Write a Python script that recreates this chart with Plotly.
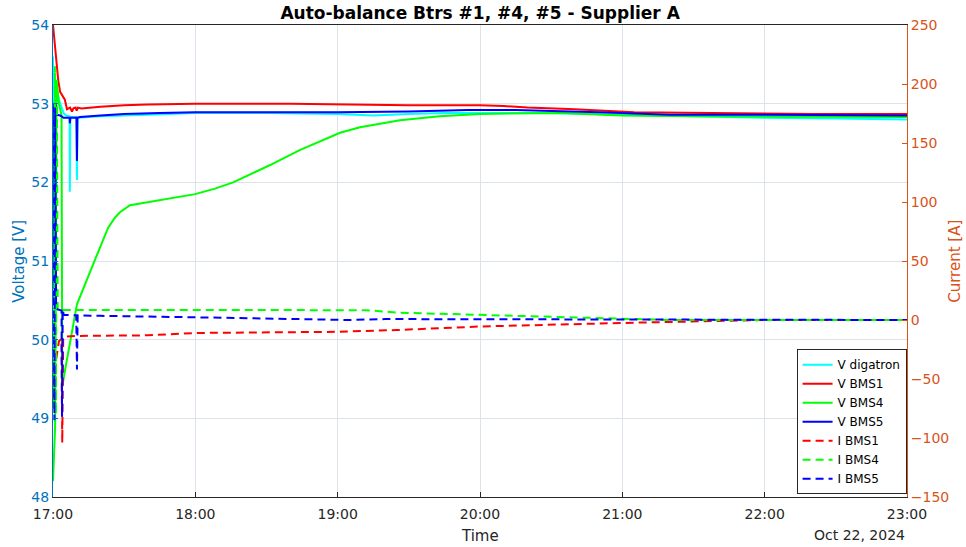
import pandas as pd
import plotly.graph_objects as go

T0 = pd.Timestamp("2024-10-22 17:00:00")

# ---- data (minutes after 17:00, values) ----
t_vdig = [0, 0.3, 0.6, 1.5, 2.5, 3.5, 4.5, 5.5, 7.0, 7.1, 7.3, 9.9, 10.1, 10.3, 20, 40, 60, 90, 120, 135, 150, 165, 180, 210, 240, 270, 300, 330, 360]
v_dig = [53.6, 51.6, 53.4, 53.2, 53.05, 52.95, 52.88, 52.85, 52.84, 51.88, 52.83, 52.83, 52.03, 52.82, 52.84, 52.86, 52.88, 52.88, 52.87, 52.85, 52.87, 52.88, 52.88, 52.88, 52.86, 52.84, 52.82, 52.81, 52.80]

t_vb1 = [0, 0.6, 1.3, 2.2, 3.0, 4.0, 5.0, 5.9, 7.2, 8.0, 8.6, 9.5, 10.0, 10.5, 12, 20, 30, 40, 60, 100, 130, 150, 180, 190, 200, 220, 245, 280, 320, 360]
v_b1 = [54.0, 53.8, 53.55, 53.3, 53.15, 53.1, 53.05, 52.93, 52.95, 52.9, 52.94, 52.95, 52.91, 52.95, 52.94, 52.96, 52.98, 52.99, 53.0, 53.0, 52.99, 52.98, 52.98, 52.97, 52.95, 52.93, 52.89, 52.88, 52.87, 52.87]

t_vb4 = [0, 0.9, 1.5, 2.5, 3.6, 3.9, 5.0, 7.2, 10.1, 16.4, 19.8, 23.2, 26.1, 28.2, 32.5, 40.9, 49.3, 59.9, 68.3, 75.9, 91.5, 104, 121, 129.4, 146.3, 163, 180, 213.7, 240, 272.8, 360]
v_b4 = [48.2, 48.9, 53.3, 53.0, 52.85, 49.4, 49.6, 49.95, 50.45, 50.92, 51.18, 51.42, 51.55, 51.62, 51.71, 51.75, 51.79, 51.85, 51.92, 52.0, 52.22, 52.41, 52.63, 52.70, 52.79, 52.84, 52.87, 52.88, 52.85, 52.84, 52.83]

t_vb5 = [0, 0.2, 1.2, 1.6, 3.0, 4.5, 7.0, 7.1, 7.3, 9.9, 10.1, 10.3, 11.4, 20, 30, 45, 60, 90, 120, 150, 175, 195, 210, 230, 260, 300, 360]
v_b5 = [50.65, 53.0, 52.98, 52.86, 52.85, 52.82, 52.82, 52.75, 52.82, 52.82, 52.27, 52.82, 52.83, 52.85, 52.87, 52.88, 52.89, 52.89, 52.89, 52.9, 52.92, 52.92, 52.91, 52.89, 52.86, 52.86, 52.85]

t_ib1 = [0, 0.6, 1.2, 2.5, 3.6, 3.9, 4.3, 5.0, 10, 40, 60, 120, 145, 180, 240, 290, 300, 360]
i_b1 = [-40, -75, -35, -18, -16, -104, -16, -14, -13.5, -13, -11, -10, -8.5, -5.5, -2.5, -0.5, 0, 0]

t_ib4 = [0, 0.4, 0.8, 1.2, 1.6, 2.0, 60, 120, 132, 146, 180, 210, 240, 260, 360]
i_b4 = [0, -75, 215, -80, 205, 8.5, 8.5, 8.5, 8.3, 6.2, 4.2, 2.5, 0.8, 0, 0]

t_ib5 = [0, 0.3, 0.6, 0.9, 1.3, 2.0, 3.6, 3.8, 4.1, 4.5, 9.8, 10.1, 10.4, 20, 60, 110, 125, 140, 200, 250, 290, 360]
i_b5 = [20, 25, -85, 180, 10, 9, 8, -82, 9, 4.5, 4, -42, 4, 3.5, 2.3, 0.8, 0.0, 0.8, 0.6, 0.2, 0, 0]


def tt(mins):
    return [T0 + pd.Timedelta(minutes=m) for m in mins]


series = [
    ("V digatron", t_vdig, v_dig, "#00FFFF", "solid", "y"),
    ("V BMS1", t_vb1, v_b1, "#FF0000", "solid", "y"),
    ("V BMS4", t_vb4, v_b4, "#00FF00", "solid", "y"),
    ("V BMS5", t_vb5, v_b5, "#0000FF", "solid", "y"),
    ("I BMS1", t_ib1, i_b1, "#FF0000", "8px,5px", "y2"),
    ("I BMS4", t_ib4, i_b4, "#00FF00", "8px,5px", "y2"),
    ("I BMS5", t_ib5, i_b5, "#0000FF", "8px,5px", "y2"),
]

fig = go.Figure()
for name, t, v, c, d, ax in series:
    fig.add_trace(go.Scatter(x=tt(t), y=v, name=name, mode="lines", yaxis=ax,
                             line=dict(color=c, width=2, dash=d)))

FONT = "DejaVu Sans"
LEFT = "#0072BD"
RIGHT = "#D95319"

fig.update_layout(
    width=966, height=547,
    margin=dict(l=53, r=59, t=25, b=50, autoexpand=False),
    paper_bgcolor="white", plot_bgcolor="white",
    font=dict(family=FONT, size=14, color="#262626"),
    title=dict(text="<b>Auto-balance Btrs #1, #4, #5 - Supplier A</b>", x=0.497, xanchor="center",
               y=0.977, yanchor="middle", font=dict(size=17, color="#000000", family=FONT)),
    showlegend=True,
    legend=dict(x=0.9995, xanchor="right", y=0.006, yanchor="bottom", bgcolor="white",
                bordercolor="#262626", borderwidth=1, font=dict(size=12, color="#000000", family=FONT),
                tracegroupgap=0, itemwidth=30),
    xaxis=dict(type="date", range=[T0, T0 + pd.Timedelta(hours=6)], dtick=3600000, tickformat="%H:%M",
               showgrid=True, gridcolor="#dde3ea", gridwidth=1, showline=True, linecolor="#262626",
               linewidth=1, mirror=True, ticks="inside", ticklen=5, tickcolor="#262626",
               ticklabelstandoff=4,
               automargin=False, zeroline=False, tickfont=dict(size=14, color="#262626")),
    yaxis=dict(range=[48, 54], dtick=1, showgrid=True, gridcolor="#dde3ea", gridwidth=1, showline=True,
               linecolor=LEFT, linewidth=1, ticks="inside", ticklen=5, tickcolor=LEFT,
               tickfont=dict(size=14, color=LEFT), automargin=False, zeroline=False),
    yaxis2=dict(range=[-150, 250], dtick=50, overlaying="y", side="right", showgrid=False, showline=True,
                linecolor=RIGHT, linewidth=1, ticks="inside", ticklen=5, tickcolor=RIGHT,
                tickfont=dict(size=14, color=RIGHT), automargin=False, zeroline=False),
    annotations=[
        dict(text="Oct 22, 2024", xref="paper", yref="paper", x=1.0, y=-0.06, xanchor="right",
             yanchor="top", showarrow=False, font=dict(size=14, color="#262626", family=FONT)),
        dict(text="Time", xref="paper", yref="paper", x=0.5, y=-0.06, xanchor="center",
             yanchor="top", showarrow=False, font=dict(size=15, color="#262626", family=FONT)),
        dict(text="Voltage [V]", xref="paper", yref="paper", x=-0.04, y=0.5, xanchor="center",
             yanchor="middle", textangle=-90, showarrow=False, font=dict(size=15, color=LEFT, family=FONT)),
        dict(text="Current [A]", xref="paper", yref="paper", x=1.056, y=0.5, xanchor="center",
             yanchor="middle", textangle=-90, showarrow=False, font=dict(size=15, color=RIGHT, family=FONT)),
    ],
)

fig.write_html("out.html", config={"displayModeBar": False},
               post_script="document.body.style.margin='0';document.body.style.overflow='hidden';")
